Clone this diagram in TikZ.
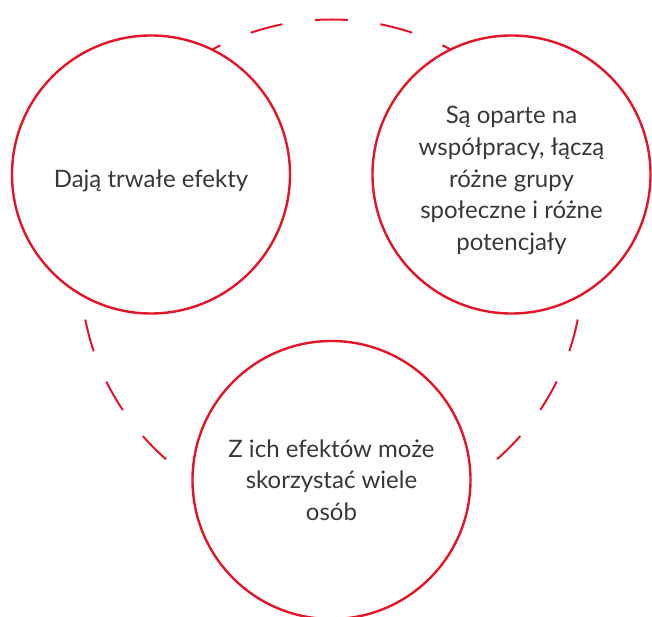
\documentclass[tikz,border=0pt]{standalone}
\usepackage{fontspec}
\setmainfont{Lato}
\usepackage{xcolor}
\definecolor{ringred}{HTML}{E2152B}
\definecolor{txtgray}{HTML}{383838}

\begin{document}
\begin{tikzpicture}[x=1pt,y=-1pt,
  bubble/.style={circle,draw=ringred,line width=2.4pt,fill=white,minimum size=278pt,inner sep=0pt},
  caption/.style={align=center,text=txtgray,font=\fontsize{24}{31.7}\selectfont,yshift=-6pt},
  ring/.style={draw=ringred,line width=2pt,dash pattern=on 32.856pt off 32.856pt,dash phase=16.428pt}]
  \useasboundingbox (0,0) rectangle (652,617);
  % dashed ring behind the three circles
  \coordinate (hub) at (331.5,270.5);
  \draw[ring] (hub) circle (251);
  % the three circles
  \node[bubble,label={[caption]center:Dają trwałe efekty}] (lasting) at (151,174.5) {};
  \node[bubble,label={[caption]center:Są oparte na\\współpracy, łączą\\różne grupy\\społeczne i różne\\potencjały}] (shared) at (511.5,174.5) {};
  \node[bubble,label={[caption,yshift=6pt]center:Z ich efektów może\\skorzystać wiele\\osób}] (many) at (331.5,480) {};
\end{tikzpicture}
\end{document}
